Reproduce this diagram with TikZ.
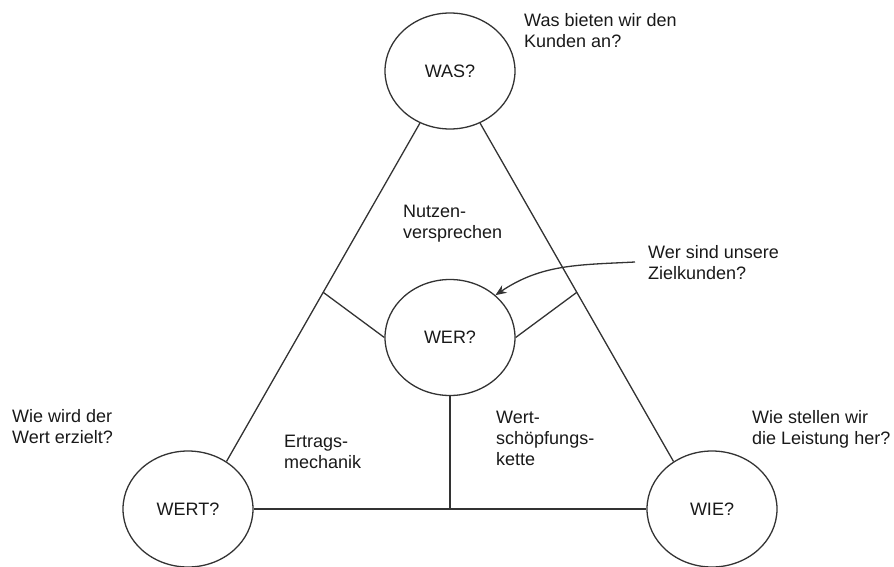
\documentclass[tikz,border=0pt]{standalone}
\usepackage{fontspec}
\setmainfont{Liberation Sans}
\usepackage{tikz}
\usetikzlibrary{shapes.geometric}
\usetikzlibrary{arrows.meta}

\begin{document}
\begin{tikzpicture}[x=1pt,y=-1pt]
    
    \tikzstyle{question}=[ellipse,draw=black!80,line width=1.3pt,minimum width=130pt,minimum height=116pt,inner sep=0pt,font=\fontsize{18}{21}\selectfont,text=black!90]
    \tikzstyle{side line}=[line width=1.3pt,color=black!80]
    \tikzstyle{pointer}=[-{Stealth[length=11pt,width=9pt]},line width=1.3pt,color=black!80]
    \tikzstyle{field text}=[anchor=base west,align=left,inner sep=0pt,font=\fontsize{18}{21}\selectfont,text=black!90]
    \useasboundingbox (0,0) rectangle (894,567);

    % the four questions
    \node[style=question] (was) at (450,71) {WAS?};
    \node[style=question] (wer) at (450,337.5) {WER?};
    \node[style=question] (wert) at (188,509) {WERT?};
    \node[style=question] (wie) at (712,509) {WIE?};

    % triangle and inner spokes
    \draw[style=side line] (wert.51) -- coordinate[pos=0.5] (nutzenL) (was.240);
    \draw[style=side line] (wie.129) -- coordinate[pos=0.5] (nutzenR) (was.300);
    \draw[style=side line] (wert) -- (wie);
    \draw[style=side line] (wer.west) -- (nutzenL);
    \draw[style=side line] (wer.east) -- (nutzenR);
    \draw[style=side line] (wer.south) -- (wer.south |- wert.east);

    % texts in the fields (anchored at the last line)
    \node[style=field text] (nutzen) at (403,238) {Nutzen-\\versprechen};
    \node[style=field text] (ertrag) at (284,468) {Ertrags-\\mechanik};
    \node[style=field text] (schoepfung) at (496,465) {Wert-\\schöpfungs-\\kette};

    % questions beside the circles
    \node[style=field text] (wasfrage) at (524,48) {Was bieten wir den\\Kunden an?};
    \node[style=field text] (ziel) at (648,279) {Wer sind unsere\\Zielkunden?};
    \node[style=field text] (wertfrage) at (12,443) {Wie wird der\\Wert erzielt?};
    \node[style=field text] (wiefrage) at (752,444) {Wie stellen wir\\die Leistung her?};

    \coordinate (zielstart) at (635,262);
    \draw[style=pointer] (zielstart) to[out=183,in=34] (wer.43);

\end{tikzpicture}
\end{document}
